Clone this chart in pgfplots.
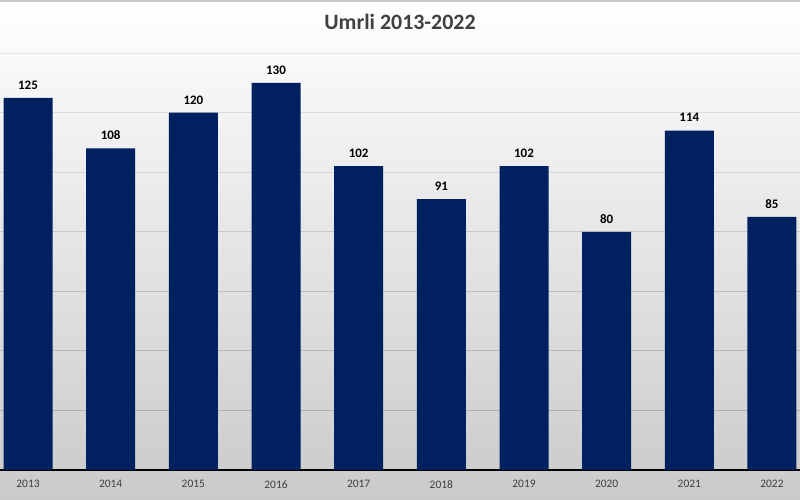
\documentclass[border=0pt]{standalone}
\usepackage{fontspec}
\setmainfont{Carlito}
\usepackage{pgfplots}
\pgfplotsset{compat=1.18}
\definecolor{barblue}{RGB}{0,32,96}
\definecolor{txtgray}{RGB}{64,64,64}
\definecolor{bgbottom}{RGB}{202,202,202}
\definecolor{topline}{RGB}{200,200,200}
\definecolor{baseline}{RGB}{120,120,120}
\begin{document}
\begin{tikzpicture}[x=1bp,y=1bp]
\shade[top color=white, bottom color=bgbottom] (0,0) rectangle (800,500);
\useasboundingbox (0,0) rectangle (800,500);
\draw[line width=2bp, topline] (0,499) -- (800,499);
\node[font=\fontsize{22}{26}\selectfont\bfseries, text=txtgray] at (400,478) {Umrli 2013-2022};
\begin{axis}[
  at={(0bp,30bp)}, anchor=south west,
  scale only axis,
  width=800bp, height=416.9bp,
  xmin=-0.339, xmax=9.339,
  ymin=0, ymax=140,
  axis line style={draw=none},
  ytick=\empty,
  major tick length=0,
  xtick={0,...,9},
  xticklabels={2013,2014,2015,2016,2017,2018,2019,2020,2021,2022},
  xticklabel style={font=\fontsize{11.5}{13}\selectfont, text=txtgray, yshift=-7bp},
  /pgf/number format/assume math mode=true,
  clip=false,
  nodes near coords,
  every node near coord/.append style={font=\fontsize{13}{15}\selectfont\bfseries, text=black, anchor=south, yshift=5bp},
]
\pgfplotsinvokeforeach{20,40,60,80,100,120,140}{
  \pgfmathtruncatemacro{\p}{36-#1/5.5}
  \edef\tmp{\noexpand\draw[black!\p, line width=0.9bp] (axis cs:-0.339,#1) -- (axis cs:9.339,#1);}
  \tmp
}
\draw[baseline, line width=1.2bp] (axis cs:-0.339,0) -- (axis cs:9.339,0);
\addplot[ybar, bar width=49bp, fill=barblue, draw=none] coordinates {
(0,125) (1,108) (2,120) (3,130) (4,102) (5,91) (6,102) (7,80) (8,114) (9,85)};
\end{axis}
\end{tikzpicture}
\end{document}
